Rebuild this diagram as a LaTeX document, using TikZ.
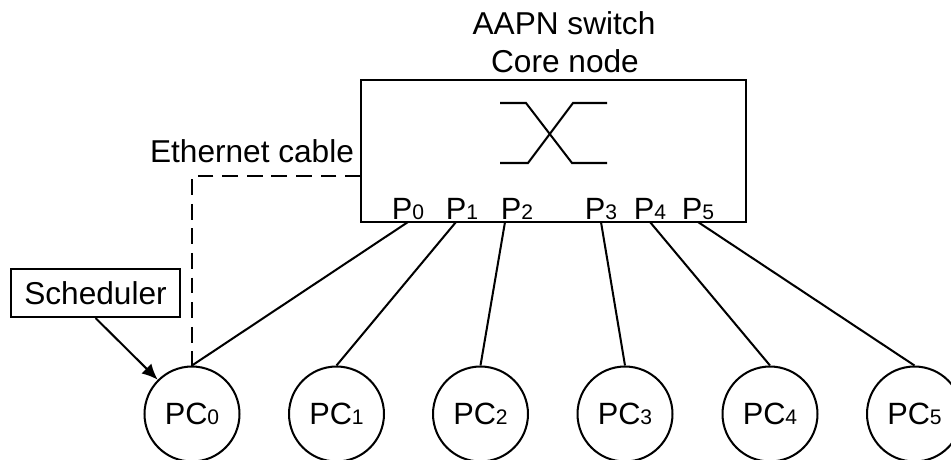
\documentclass[tikz,border=0pt]{standalone}
\usepackage{fontspec}
\usetikzlibrary{arrows.meta}
\setmainfont{Liberation Sans}
\newcommand{\idx}[1]{{\fontsize{12}{12}\selectfont #1}}
\tikzset{
  pc/.style={draw,circle,minimum size=1.9cm,inner sep=0pt,font=\fontsize{17.5}{20}\selectfont},
  port/.style={anchor=south,inner sep=0pt,inner ysep=1pt,font=\fontsize{17.5}{20}\selectfont},
  lbl/.style={font=\fontsize{18}{20}\selectfont},
}
\begin{document}
\begin{tikzpicture}[x=0.02cm,y=-0.02cm,line width=1.15pt]
\useasboundingbox (0,0) rectangle (951,460);
\node[draw,minimum width=7.7cm,minimum height=2.84cm,inner sep=0pt] (box) at (553.5,151) {};
\coordinate (cable) at (361,176);
\node[lbl] (title) at (564,23) {AAPN switch};
\node[lbl] (core) at (565,61) {Core node};
\node[lbl,anchor=east,inner sep=0pt] (eth) at (355,151) {Ethernet cable};
\node[draw,lbl,minimum width=3.38cm,minimum height=0.96cm,inner sep=0pt] (sched) at (95.5,293) {Scheduler};
\node[port] (p0) at (408,222) {P\idx{0}};
\node[port] (p1) at (462,222) {P\idx{1}};
\node[port] (p2) at (517,222) {P\idx{2}};
\node[port] (p3) at (601,222) {P\idx{3}};
\node[port] (p4) at (650,222) {P\idx{4}};
\node[port] (p5) at (698,222) {P\idx{5}};
\node[pc] (pc0) at (192,414) {PC\idx{0}};
\node[pc] (pc1) at (336.5,414) {PC\idx{1}};
\node[pc] (pc2) at (480.5,414) {PC\idx{2}};
\node[pc] (pc3) at (625,414) {PC\idx{3}};
\node[pc] (pc4) at (770,414) {PC\idx{4}};
\node[pc] (pc5) at (914.5,414) {PC\idx{5}};
\draw (500,103) -- (526,103) -- (572,163) -- (607,163);
\draw (500,163) -- (528,163) -- (573,103) -- (607,103);
\draw (p0.south) -- (pc0.north);
\draw ([xshift=-.12cm]p1.south) -- (pc1.north);
\draw ([xshift=-.24cm]p2.south) -- (pc2.north);
\draw (p3.south) -- (pc3.north);
\draw (p4.south) -- (pc4.north);
\draw (p5.south) -- (pc5.north);
\draw[dash pattern=on 9pt off 5pt] (cable) -| (pc0.north);
\draw[-{Latex[length=9pt,width=8pt]}] (sched.south) -- (pc0.135);
\end{tikzpicture}
\end{document}
